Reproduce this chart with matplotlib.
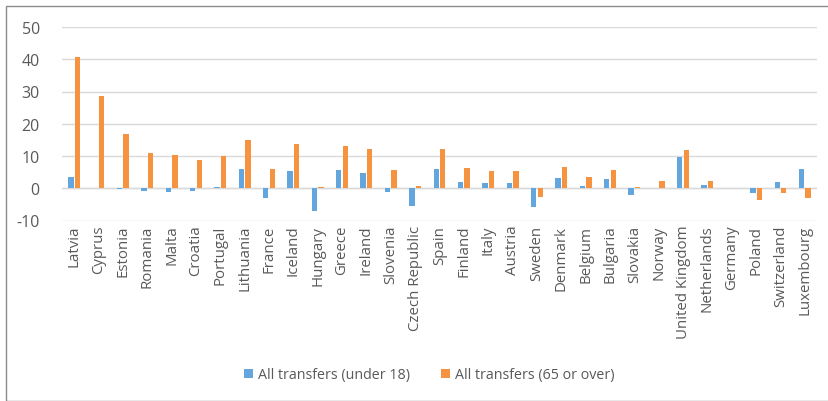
import matplotlib
matplotlib.use("Agg")
import matplotlib.pyplot as plt
import numpy as np
from matplotlib.patches import Rectangle

countries = ["Latvia", "Cyprus", "Estonia", "Romania", "Malta", "Croatia", "Portugal",
             "Lithuania", "France", "Iceland", "Hungary", "Greece", "Ireland", "Slovenia",
             "Czech Republic", "Spain", "Finland", "Italy", "Austria", "Sweden", "Denmark",
             "Belgium", "Bulgaria", "Slovakia", "Norway", "United Kingdom", "Netherlands",
             "Germany", "Poland", "Switzerland", "Luxembourg"]
under18 = [3.4, 0.2, -0.1, -0.8, -1.2, -1.0, 0.5, 5.9, -3.1, 5.2, -7.2, 5.7, 4.8, -1.2,
           -5.5, 6.0, 2.0, 1.5, 1.5, -5.9, 3.2, 0.6, 2.9, -2.0, 0.0, 9.6, 1.1, 0.0, -1.6, 1.8, 5.9]
over65 = [40.7, 28.7, 16.8, 10.9, 10.3, 8.9, 10.1, 14.9, 5.9, 13.7, 0.4, 13.1, 12.1, 5.7,
          0.8, 12.1, 6.2, 5.4, 5.2, -2.6, 6.5, 3.4, 5.6, 0.4, 2.1, 11.8, 2.3, 0.0, -3.5, -1.4, -3.1]
series_names = ["All transfers (under 18)", "All transfers (65 or over)"]
yticks = [-10, 0, 10, 20, 30, 40, 50]

W, H = 829, 402
fig = plt.figure(figsize=(W / 100, H / 100), dpi=100)
font = "Open Sans"
gray = "#595959"

# outer border
fig.patches.append(Rectangle((6 / W, 0.5 / H), 1.0, (H - 7 - 0.5) / H, transform=fig.transFigure,
                             fill=False, edgecolor="#8c8c8c", linewidth=1.0))

ax = fig.add_axes([62 / W, 1 - 221.5 / H, 755 / W, (221.5 - 28) / H])
x = np.arange(len(countries))
bw = 0.22
off = 0.135
ax.bar(x - off, under18, bw, color="#62A6DD", label=series_names[0], zorder=3)
ax.bar(x + off, over65, bw, color="#F59340", label=series_names[1], zorder=3)

ax.set_xlim(-0.5, len(countries) - 0.5)
ax.set_ylim(-10, 50)
ax.set_yticks(yticks)
ax.set_yticklabels([str(v) for v in yticks], fontsize=11.5, color=gray, family=font)
ax.yaxis.grid(True, color="#d9d9d9", linewidth=1.0, zorder=0)
ax.set_axisbelow(True)
ax.axhline(0, color="#d9d9d9", linewidth=1.0, zorder=1)
for s in ax.spines.values():
    s.set_visible(False)
ax.tick_params(axis="y", length=0, pad=16)
ax.tick_params(axis="x", length=0, pad=3)
ax.set_xticks(x)
ax.set_xticklabels(countries, rotation=90, fontsize=10.8, color=gray, family=font,
                   va="top", ha="center")

leg = fig.legend(loc="center", bbox_to_anchor=(429.5 / W, 1 - 376 / H), ncol=2, frameon=False,
                 prop={"family": font, "size": 10.3}, handlelength=0.6, handleheight=0.6,
                 handletextpad=0.35, columnspacing=2.2)
for t in leg.get_texts():
    t.set_color(gray)

fig.savefig("out.png", dpi=100)
